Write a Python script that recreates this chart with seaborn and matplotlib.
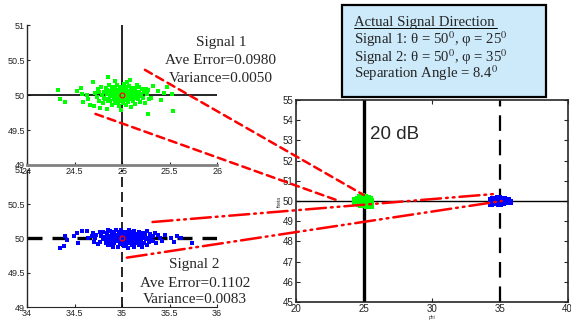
"""
Estimación DOA a 20 dB: dispersión de dos señales y vista conjunta phi/theta.
"""
import matplotlib
matplotlib.use('Agg')
import matplotlib.pyplot as plt
import seaborn as sns
import pandas as pd
from matplotlib.patches import ConnectionPatch, Rectangle
from matplotlib.lines import Line2D

sns.set_style('ticks')
plt.rcParams['font.family'] = ['Liberation Sans', 'DejaVu Sans']
plt.rcParams['mathtext.fontset'] = 'stix'

# ---------------- datos ----------------
# Señal 1 (verde): phi, theta estimados
sig1_phi = [
    24.33, 24.35, 24.40, 24.57, 24.59, 24.63, 24.66, 24.69, 24.77, 24.85,
    24.93, 25.05, 25.08, 25.18, 25.33, 25.47, 25.52, 25.54, 25.27, 24.99,
    24.84, 24.70, 24.64, 25.41, 25.38, 25.44, 25.30, 25.25, 24.53, 24.58,
    24.72, 24.74, 24.75, 24.76, 24.78, 24.79, 24.80, 24.81, 24.82, 24.83,
    24.84, 24.85, 24.86, 24.87, 24.88, 24.89, 24.90, 24.90, 24.91, 24.92,
    24.93, 24.93, 24.94, 24.95, 24.95, 24.96, 24.97, 24.97, 24.98, 24.98,
    24.99, 24.99, 25.00, 25.00, 25.01, 25.01, 25.02, 25.02, 25.03, 25.03,
    25.04, 25.04, 25.05, 25.05, 25.06, 25.07, 25.07, 25.08, 25.09, 25.09,
    25.10, 25.11, 25.11, 25.12, 25.13, 25.14, 25.14, 25.15, 25.16, 25.17,
    25.18, 25.19, 25.20, 25.21, 25.22, 25.23, 25.24, 25.26, 25.27, 25.28,
    24.95, 24.97, 25.00, 25.02, 25.04, 24.92, 24.88, 25.06, 25.08, 24.94,
    24.86, 25.12, 24.91, 25.03, 24.99, 25.10, 24.84, 25.15, 24.96, 25.01,
    24.76, 24.81, 25.17, 25.19, 24.89, 25.05, 24.98, 25.13, 24.87, 25.00,
]
sig1_theta = [
    50.07, 49.94, 49.90, 50.10, 49.90, 50.00, 49.86, 50.18, 49.82, 50.26,
    50.20, 50.18, 50.21, 50.12, 50.13, 50.11, 50.02, 49.77, 49.73, 49.79,
    49.80, 49.84, 49.94, 49.93, 50.06, 50.03, 49.96, 50.08, 50.06, 50.02,
    50.03, 49.97, 50.08, 49.91, 50.12, 50.00, 49.88, 50.05, 49.95, 50.10,
    50.02, 49.92, 50.14, 49.98, 50.06, 49.86, 50.01, 50.11, 49.94, 50.04,
    49.89, 50.08, 49.99, 50.15, 49.93, 50.03, 49.84, 50.07, 49.97, 50.12,
    50.01, 49.91, 50.05, 49.95, 50.09, 49.88, 50.00, 50.16, 49.93, 50.04,
    49.86, 50.11, 49.98, 50.06, 49.90, 50.02, 50.13, 49.95, 50.07, 49.83,
    50.00, 50.10, 49.92, 50.04, 49.97, 50.08, 49.87, 50.01, 50.14, 49.94,
    50.05, 49.90, 50.02, 50.09, 49.96, 50.04, 49.88, 50.01, 50.07, 49.94,
    50.00, 49.95, 50.02, 49.97, 50.01, 49.98, 50.00, 49.99, 50.03, 50.06,
    49.95, 49.98, 50.02, 50.08, 49.94, 50.05, 50.07, 49.96, 49.90, 50.12,
    50.04, 49.96, 50.03, 49.99, 50.09, 49.93, 50.04, 50.06, 49.91, 49.99,
]

# Señal 2 (azul)
sig2_phi = [
    34.35, 34.39, 34.42, 34.40, 34.49, 34.53, 34.54, 34.58, 34.63, 34.64,
    34.69, 34.70, 34.73, 34.77, 34.77, 34.80, 34.84, 34.85, 34.87, 35.33,
    35.38, 35.45, 35.51, 35.58, 35.74, 35.26, 35.21, 35.42, 35.55, 35.62,
    34.82, 34.83, 34.84, 34.85, 34.86, 34.87, 34.88, 34.89, 34.90, 34.90,
    34.91, 34.92, 34.93, 34.94, 34.94, 34.95, 34.96, 34.97, 34.97, 34.98,
    34.99, 34.99, 35.00, 35.00, 35.01, 35.02, 35.02, 35.03, 35.04, 35.04,
    35.05, 35.06, 35.06, 35.07, 35.08, 35.08, 35.09, 35.10, 35.10, 35.11,
    35.12, 35.13, 35.13, 35.14, 35.15, 35.16, 35.17, 35.18, 35.18, 35.19,
    35.20, 35.21, 35.22, 35.23, 35.24, 35.25, 35.26, 35.27, 35.28, 35.29,
    34.95, 34.98, 35.01, 35.03, 35.05, 35.07, 35.09, 35.11, 34.93, 34.96,
    35.00, 35.12, 35.15, 34.88, 34.91, 35.14, 35.06, 34.99, 35.02, 35.16,
    34.86, 34.92, 35.04, 35.19, 35.23, 34.97, 35.10, 35.07, 34.89, 35.21,
    35.30, 35.32, 35.35, 35.36, 35.40, 34.80, 34.78, 34.75, 34.72, 34.68,
]
sig2_theta = [
    49.86, 49.89, 49.98, 50.03, 50.03, 50.08, 49.93, 50.11, 50.11, 50.01,
    50.08, 49.95, 50.05, 50.10, 49.95, 50.10, 49.98, 50.13, 49.90, 50.03,
    50.05, 50.05, 50.01, 50.04, 49.93, 49.90, 49.88, 49.97, 49.95, 50.00,
    50.02, 49.94, 50.08, 49.90, 50.04, 50.11, 49.97, 50.06, 49.88, 50.01,
    50.09, 49.93, 50.03, 50.12, 49.96, 50.05, 49.87, 50.00, 50.08, 49.92,
    50.04, 50.13, 49.95, 50.02, 50.07, 49.89, 49.98, 50.10, 50.03, 49.94,
    50.06, 49.86, 50.00, 50.12, 49.96, 50.04, 50.09, 49.91, 50.01, 50.06,
    49.97, 50.11, 49.88, 50.03, 49.94, 50.07, 50.00, 49.90, 50.10, 50.04,
    49.96, 50.02, 50.08, 49.93, 50.05, 49.99, 50.11, 50.01, 49.95, 50.06,
    50.00, 49.98, 50.01, 49.97, 50.02, 49.99, 50.00, 50.03, 49.98, 50.02,
    50.05, 50.00, 50.02, 50.01, 49.95, 49.99, 50.04, 49.96, 50.09, 49.97,
    49.97, 50.07, 49.91, 49.93, 50.00, 50.10, 50.08, 49.93, 49.92, 50.07,
    50.00, 49.96, 50.08, 49.93, 50.01, 49.99, 50.03, 49.92, 50.00, 50.04,
]

true_dirs = {'Signal 1': (25, 50), 'Signal 2': (35, 50)}
stats1 = ['Signal 1', 'Ave Error=0.0980', 'Variance=0.0050']
stats2 = ['Signal 2', 'Ave Error=0.1102', 'Variance=0.0083']
box_lines = [
    'Actual Signal Direction',
    r'Signal 1: θ = 50$^{0}$, φ = 25$^{0}$',
    r'Signal 2: θ = 50$^{0}$, φ = 35$^{0}$',
    r'Separation Angle = 8.4$^{0}$',
]

df1 = pd.DataFrame({'phi': sig1_phi, 'theta': sig1_theta})
df2 = pd.DataFrame({'phi': sig2_phi, 'theta': sig2_theta})

GREEN, BLUE, RED = '#00ff00', '#0000ff', '#ff0000'
SERIF = ['Liberation Serif', 'DejaVu Serif']

fig = plt.figure(figsize=(5.71, 3.21), dpi=100)

ax1 = fig.add_axes([0.0473, 0.486, 0.333, 0.436])
ax2 = fig.add_axes([0.0473, 0.0436, 0.333, 0.427])
ax3 = fig.add_axes([0.518, 0.0592, 0.476, 0.629])

# ---------------- panel superior izquierdo ----------------
ax1.axvline(25, color='black', lw=1.2, zorder=1)
ax1.axhline(50, color='black', lw=1.2, zorder=1)
sns.scatterplot(data=df1, x='phi', y='theta', ax=ax1, color=GREEN, marker='s',
                s=6, linewidth=0, zorder=2, legend=False)
ax1.plot(*true_dirs['Signal 1'], marker='o', ms=3.5, mfc='none', mec=RED, mew=0.9, zorder=3)
ax1.set_xlim(24, 26)
ax1.set_ylim(49, 51)
ax1.set_xticks([24, 24.5, 25, 25.5, 26])
ax1.set_yticks([49, 49.5, 50, 50.5, 51])
ax1.set_xticklabels(['24', '24.5', '25', '25.5', '26'])
ax1.set_yticklabels(['49', '49.5', '50', '50.5', '51'])
ax1.spines['top'].set_visible(False)
ax1.spines['right'].set_visible(False)
ax1.spines['bottom'].set_color('#808080')
ax1.spines['bottom'].set_linewidth(2)

# ---------------- panel inferior izquierdo ----------------
ax2.axvline(35, color='black', lw=1.2, linestyle=(0, (6, 3)), zorder=1)
ax2.axhline(50, color='black', lw=2.4, linestyle=(0, (4.5, 3)), zorder=1)
sns.scatterplot(data=df2, x='phi', y='theta', ax=ax2, color=BLUE, marker='s',
                s=6, linewidth=0, zorder=2, legend=False)
ax2.plot(*true_dirs['Signal 2'], marker='o', ms=3.5, mfc='none', mec=RED, mew=0.9, zorder=3)
ax2.set_xlim(34, 36)
ax2.set_ylim(49, 51)
ax2.set_xticks([34, 34.5, 35, 35.5, 36])
ax2.set_yticks([49, 49.5, 50, 50.5, 51])
ax2.set_xticklabels(['34', '34.5', '35', '35.5', '36'])
ax2.set_yticklabels(['49', '49.5', '50', '50.5', '51'])
ax2.spines['top'].set_visible(False)
ax2.spines['right'].set_visible(False)

for ax in (ax1, ax2):
    ax.patch.set_alpha(0)
    ax.tick_params(direction='in', length=2.5, width=0.8, labelsize=6.5,
                   labelcolor='#222222', pad=1.5)
    ax.spines['left'].set_linewidth(1)
    ax.set_xlabel('')
    ax.set_ylabel('')

# ---------------- panel derecho ----------------
ax3.axvline(25, color='black', lw=2.4, zorder=1)
ax3.axvline(35, color='black', lw=1.6, linestyle=(0, (7, 4)), zorder=1)
ax3.axhline(50, color='black', lw=1.0, zorder=1)
sns.scatterplot(data=df1, x='phi', y='theta', ax=ax3, color=GREEN, marker='s',
                s=14, linewidth=0, zorder=2, legend=False)
sns.scatterplot(data=df2, x='phi', y='theta', ax=ax3, color=BLUE, marker='s',
                s=14, linewidth=0, zorder=2, legend=False)
ax3.set_xlim(20, 40)
ax3.set_ylim(45, 55)
ax3.set_xticks([20, 25, 30, 35, 40])
ax3.set_yticks(range(45, 56))
ax3.tick_params(direction='in', length=3, width=0.8, labelsize=7,
                labelcolor='#222222', top=True, right=True, pad=1.5)
for sp in ax3.spines.values():
    sp.set_linewidth(1.2)
ax3.set_xlabel('phi', fontsize=3.5, labelpad=1)
ax3.set_ylabel('theta', fontsize=3.5, labelpad=1)
ax3.text(27.3, 53.3, '20 dB', fontsize=13.5, ha='center', va='center')

# ---------------- textos de estadísticas ----------------
for txt, yb in zip(stats1, [0.857, 0.801, 0.746]):
    fig.text(0.387, yb, txt, family=SERIF, fontsize=11, ha='center', va='baseline')
for txt, yb in zip(stats2, [0.165, 0.106, 0.056]):
    fig.text(0.341, yb, txt, family=SERIF, fontsize=11, ha='center', va='baseline')

# ---------------- recuadro de dirección real ----------------
fig.patches.append(Rectangle((0.599, 0.698), 0.357, 0.286, transform=fig.transFigure,
                             facecolor='#cdeafb', edgecolor='black', lw=1.6, zorder=5))
for txt, yb in zip(box_lines, [0.920, 0.863, 0.808, 0.757]):
    fig.text(0.620, yb, txt, family=SERIF, fontsize=10.6, ha='left', va='baseline', zorder=6)
fig.add_artist(Line2D([0.620, 0.870], [0.912, 0.912], transform=fig.transFigure,
                      color='black', lw=0.7, zorder=6))

# ---------------- líneas de conexión ----------------
dashed = (0, (3.2, 2))
dashdotdot = (0, (8, 2, 0.7, 2, 0.7, 2))
links = [
    (ax1, (25.24, 50.36), (25.0, 50.3), dashed),
    (ax1, (24.72, 49.73), (23.2, 50.0), dashed),
    (ax2, (35.32, 50.24), (34.63, 50.35), dashdotdot),
    (ax2, (35.05, 49.72), (35.15, 50.0), dashdotdot),
]
for src, pa, pb, ls in links:
    con = ConnectionPatch(xyA=pa, coordsA=src.transData, xyB=pb, coordsB=ax3.transData,
                          color=RED, lw=1.8, linestyle=ls, zorder=10)
    fig.add_artist(con)

fig.savefig('out.png', dpi=100)
